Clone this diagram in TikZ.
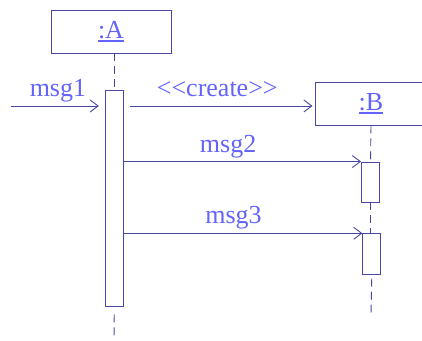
\documentclass[tikz,border=0pt]{standalone}
\usepackage{fontspec}
\setmainfont{Liberation Serif}
\usetikzlibrary{arrows.meta,calc}
\definecolor{umlline}{RGB}{72,72,164}
\definecolor{umltext}{RGB}{100,100,250}
\newcommand{\ulname}[1]{\setbox0\hbox{#1}\rlap{\rule[-3.5pt]{\wd0}{1.6pt}}\box0}
\tikzset{
  objbox/.style={draw=umlline, line width=0.9pt, minimum width=120pt, minimum height=43pt, inner sep=0pt, text=umltext, font=\fontsize{26}{30}\selectfont},
  actbar/.style={draw=umlline, line width=0.9pt, fill=white, minimum width=18pt, inner sep=0pt},
  lifeline/.style={draw=umlline, line width=0.9pt, dash pattern=on 8pt off 5pt},
  msg/.style={draw=umlline, line width=0.9pt, -{Straight Barb[length=8pt,width=12pt]}},
  msglabel/.style={above, text=umltext, font=\fontsize{26}{30}\selectfont, text depth=0pt, inner sep=9pt}
}
\begin{document}
\begin{tikzpicture}[x=1pt,y=-1pt]
  \useasboundingbox (0,0) rectangle (422,340);
  \clip (0,0) rectangle (422,340);
  % objects and activations
  \node[objbox] (objA) at (111,31.5) {\ulname{:A}};
  \node[objbox, minimum width=112pt] (objB) at (371,103.5) {\ulname{:B}};
  \node[actbar, minimum height=216pt] (actA) at (114.3,198) {};
  \node[actbar, minimum height=40pt] (actB1) at (370.5,182) {};
  \node[actbar, minimum height=40.5pt] (actB2) at (371.8,254) {};
  \coordinate (inA) at (11,106);
  \coordinate (endA) at (114,340);
  \coordinate (endB) at (371,314);
  % lifelines
  \draw[lifeline] (actA.north |- objA.south) -- (actA.north);
  \draw[lifeline, shorten <=8pt] (actA.south) -- (endA);
  \draw[lifeline] (objB.south) -- (actB1.north);
  \draw[lifeline] (actB1.south) -- (actB1.south |- actB2.north);
  \draw[lifeline, shorten <=4pt] (actB2.south) -- (endB);
  % messages
  \draw[msg, shorten >=6pt] (inA) -- node[msglabel]{msg1} (inA -| actA.west);
  \draw[msg, shorten <=6pt, shorten >=2pt] (inA -| actA.east) -- node[msglabel, pos=0.49]{<\kern0pt<create>\kern0pt>} (inA -| objB.west);
  \draw[msg] (actA.east |- actB1.north) -- node[msglabel, pos=0.44]{msg2} (actB1.north west);
  \draw[msg] (actA.east |- actB2.north) -- node[msglabel, pos=0.46]{msg3} (actB2.north west);
\end{tikzpicture}
\end{document}
